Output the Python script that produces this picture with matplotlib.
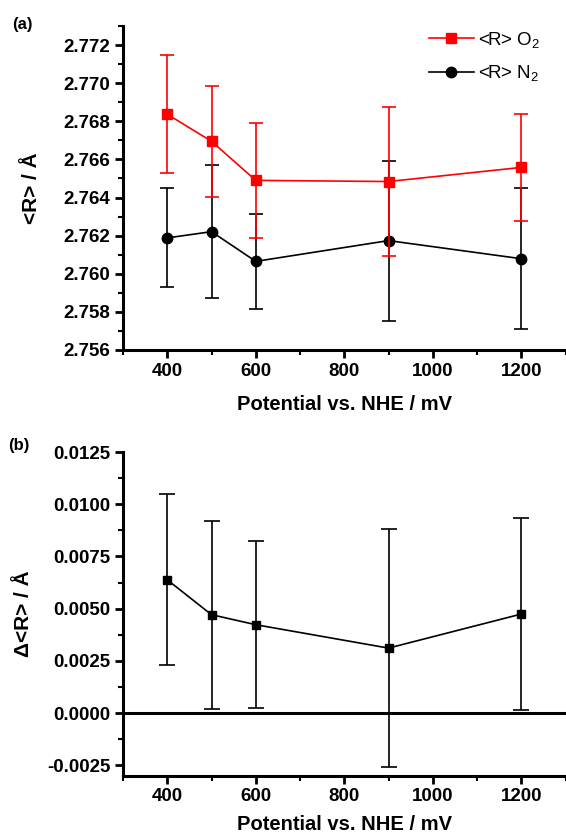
import matplotlib
matplotlib.use("Agg")
import matplotlib.pyplot as plt
from matplotlib.lines import Line2D
from matplotlib.ticker import MultipleLocator, FormatStrFormatter

plt.rcParams['font.family'] = ['Liberation Sans', 'DejaVu Sans']
plt.rcParams['mathtext.default'] = 'regular'
plt.rcParams['axes.unicode_minus'] = False

potential = [400, 500, 600, 900, 1200]
r_o2 = [2.76837, 2.76695, 2.76490, 2.76484, 2.76558]
r_o2_err = [0.0031, 0.0029, 0.0030, 0.0039, 0.0028]
r_n2 = [2.76188, 2.76221, 2.76065, 2.76174, 2.76079]
r_n2_err = [0.0026, 0.0035, 0.0025, 0.0042, 0.0037]
delta_r = [0.00638, 0.00471, 0.00423, 0.00311, 0.00474]
delta_r_err = [0.0041, 0.0045, 0.0040, 0.0057, 0.0046]

fig = plt.figure(figsize=(5.66, 8.38), dpi=100)
ax1 = fig.add_axes([123/566, 1-350/838, 442.5/566, 324/838])
ax2 = fig.add_axes([123/566, 1-775.7/838, 442.5/566, 323.7/838])

ax1.errorbar(potential, r_n2, yerr=r_n2_err, color='black', marker='o', ms=7.5,
             lw=1.2, elinewidth=1.2, capsize=5, capthick=1.2, zorder=3)
ax1.errorbar(potential, r_o2, yerr=r_o2_err, color='#ff0000', marker='s', ms=7,
             lw=1.2, elinewidth=1.2, capsize=5, capthick=1.2, zorder=4)

ax2.axhline(0, color='black', lw=2.2, zorder=2)
ax2.errorbar(potential, delta_r, yerr=delta_r_err, color='black', marker='s', ms=6,
             lw=1.2, elinewidth=1.2, capsize=6, capthick=1.2, zorder=3)

ax1.set_xlim(300, 1300)
ax1.set_ylim(2.756, 2.773)
ax1.yaxis.set_major_locator(MultipleLocator(0.002))
ax1.yaxis.set_minor_locator(MultipleLocator(0.001))
ax1.yaxis.set_major_formatter(FormatStrFormatter('%.3f'))

ax2.set_xlim(300, 1300)
ax2.set_ylim(-0.003, 0.0125)
ax2.yaxis.set_major_locator(MultipleLocator(0.0025))
ax2.yaxis.set_minor_locator(MultipleLocator(0.00125))
ax2.yaxis.set_major_formatter(FormatStrFormatter('%.4f'))

for ax in (ax1, ax2):
    ax.xaxis.set_major_locator(MultipleLocator(200))
    ax.xaxis.set_minor_locator(MultipleLocator(100))
    for s in ('top', 'right'):
        ax.spines[s].set_visible(False)
    for s in ('left', 'bottom'):
        ax.spines[s].set_linewidth(2.2)
    ax.tick_params(which='major', direction='out', length=6, width=2, labelsize=13.5, pad=3)
    ax.tick_params(which='minor', direction='out', length=3.5, width=1.5)
    for lab in ax.get_xticklabels() + ax.get_yticklabels():
        lab.set_fontweight('bold')

ax1.set_xlabel('Potential vs. NHE / mV', fontsize=14.5, fontweight='bold', labelpad=11)
ax2.set_xlabel('Potential vs. NHE / mV', fontsize=14.5, fontweight='bold', labelpad=7)

ax1.set_ylabel('<R> / Å', fontsize=15, fontweight='bold', labelpad=16)
ax2.set_ylabel('Δ<R> / Å', fontsize=15, fontweight='bold', labelpad=10)

handles = [Line2D([], [], color='#ff0000', marker='s', ms=7, lw=1.2),
           Line2D([], [], color='black', marker='o', ms=7.5, lw=1.2)]
labels = ['<R> O$_2$', '<R> N$_2$']
fig.legend(handles, labels, loc='upper left',
           bbox_to_anchor=(429/566, 1-30/838), frameon=False, fontsize=13.5,
           handlelength=2.4, handletextpad=0.2, labelspacing=0.7,
           borderpad=0, borderaxespad=0)

fig.text(12/566, 1-25/838, '(a)', fontsize=12, fontweight='bold', va='center', ha='left')
fig.text(8/566, 1-445/838, '(b)', fontsize=12, fontweight='bold', va='center', ha='left')

fig.savefig('out.png', dpi=100)
